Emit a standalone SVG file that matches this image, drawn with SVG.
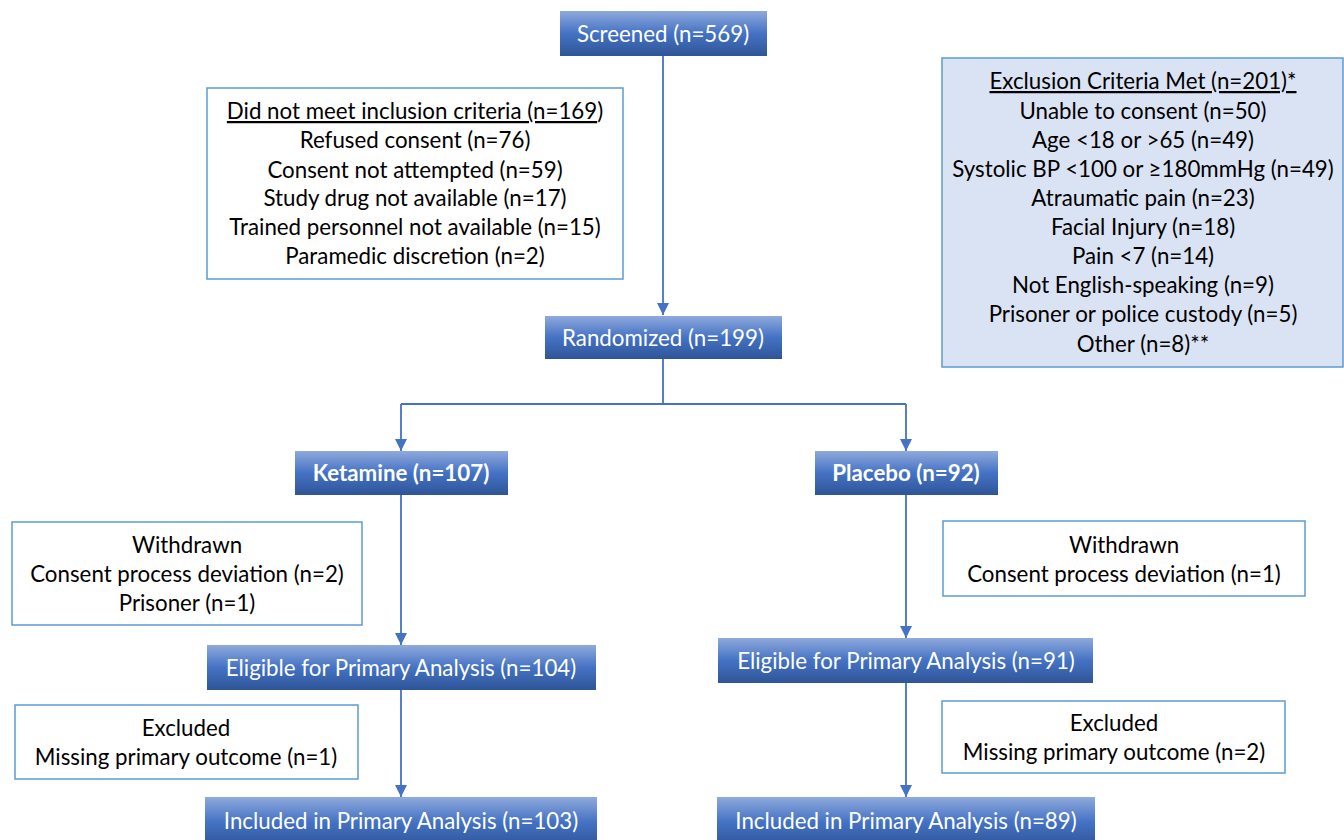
<svg xmlns="http://www.w3.org/2000/svg" width="1344" height="840" viewBox="0 0 1344 840">
<defs>
<linearGradient id="g" x1="0" y1="0" x2="0" y2="1">
<stop offset="0" stop-color="#8faadc"/>
<stop offset="0.5" stop-color="#4472c4"/>
<stop offset="1" stop-color="#2f5597"/>
</linearGradient>
<marker id="arr" markerUnits="userSpaceOnUse" markerWidth="12" markerHeight="12" viewBox="0 0 10 10" refX="10" refY="5" orient="auto">
<path d="M0,0 L10,5 L0,10 z" fill="#4472c4"/>
</marker>
<style>
.b{fill:url(#g);}
.w{fill:#fff;stroke:#5b9bd5;stroke-width:1.5;}
.l{fill:#dae3f3;stroke:#5b9bd5;stroke-width:1.5;}
text{font-family:Lato,"Open Sans",sans-serif;font-size:22.3px;text-anchor:middle;}
.wt{fill:#fff;}
.bt{fill:#fff;font-weight:bold;}
.k{fill:#000;}
.c{fill:none;stroke:#4472c4;stroke-width:1.8;}
</style>
</defs>
<g id="connectors">
<path class="c" d="M663,56 V315" marker-end="url(#arr)"/>
<path class="c" d="M663,359 V404 M401,404 H906"/>
<path class="c" d="M401,404 V451" marker-end="url(#arr)"/>
<path class="c" d="M906,404 V451" marker-end="url(#arr)"/>
<path class="c" d="M401,495 V645" marker-end="url(#arr)"/>
<path class="c" d="M401,690 V797" marker-end="url(#arr)"/>
<path class="c" d="M906,495 V638" marker-end="url(#arr)"/>
<path class="c" d="M906,683 V797" marker-end="url(#arr)"/>
</g>
<g id="screened">
<rect class="b" x="560" y="11" width="207" height="45"/>
<text class="wt" x="663" y="41.5">Screened (n=569)</text>
</g>
<g id="inclusion">
<rect class="w" x="207" y="88" width="416" height="191"/>
<text class="k" x="415" y="119"><tspan text-decoration="underline">Did not meet inclusion criteria (n=169</tspan>)</text>
<text class="k" x="415" y="148">Refused consent (n=76)</text>
<text class="k" x="415" y="178">Consent not attempted (n=59)</text>
<text class="k" x="415" y="206">Study drug not available (n=17)</text>
<text class="k" x="415" y="235">Trained personnel not available (n=15)</text>
<text class="k" x="415" y="264">Paramedic discretion (n=2)</text>
</g>
<g id="exclusion">
<rect class="l" x="942" y="58" width="401" height="309"/>
<text class="k" x="1143" y="89" text-decoration="underline">Exclusion Criteria Met (n=201)*</text>
<text class="k" x="1143" y="119">Unable to consent (n=50)</text>
<text class="k" x="1143" y="148">Age &lt;18 or &gt;65 (n=49)</text>
<text class="k" x="1143" y="177">Systolic BP &lt;100 or ≥180mmHg (n=49)</text>
<text class="k" x="1143" y="206">Atraumatic pain (n=23)</text>
<text class="k" x="1143" y="235">Facial Injury (n=18)</text>
<text class="k" x="1143" y="264">Pain &lt;7 (n=14)</text>
<text class="k" x="1143" y="293">Not English-speaking (n=9)</text>
<text class="k" x="1143" y="322">Prisoner or police custody (n=5)</text>
<text class="k" x="1143" y="352">Other (n=8)**</text>
</g>
<g id="randomized">
<rect class="b" x="545" y="316" width="237" height="43"/>
<text class="wt" x="663" y="345.5">Randomized (n=199)</text>
</g>
<g id="ketamine">
<rect class="b" x="295" y="451" width="213" height="44"/>
<text class="bt" x="401" y="481">Ketamine (n=107)</text>
</g>
<g id="placebo">
<rect class="b" x="815" y="451" width="183" height="44"/>
<text class="bt" x="906" y="481">Placebo (n=92)</text>
</g>
<g id="withdrawn-ketamine">
<rect class="w" x="12" y="522" width="350" height="103"/>
<text class="k" x="187" y="553">Withdrawn</text>
<text class="k" x="187" y="582">Consent process deviation (n=2)</text>
<text class="k" x="187" y="611">Prisoner (n=1)</text>
</g>
<g id="withdrawn-placebo">
<rect class="w" x="943" y="521" width="362" height="75"/>
<text class="k" x="1124" y="553">Withdrawn</text>
<text class="k" x="1124" y="582">Consent process deviation (n=1)</text>
</g>
<g id="eligible-ketamine">
<rect class="b" x="207" y="645" width="389" height="45"/>
<text class="wt" x="401" y="676">Eligible for Primary Analysis (n=104)</text>
</g>
<g id="eligible-placebo">
<rect class="b" x="718" y="638" width="375" height="45"/>
<text class="wt" x="906" y="669">Eligible for Primary Analysis (n=91)</text>
</g>
<g id="excluded-ketamine">
<rect class="w" x="15" y="705" width="343" height="74"/>
<text class="k" x="186" y="736">Excluded</text>
<text class="k" x="186" y="765">Missing primary outcome (n=1)</text>
</g>
<g id="excluded-placebo">
<rect class="w" x="942" y="701" width="343" height="72"/>
<text class="k" x="1114" y="731">Excluded</text>
<text class="k" x="1114" y="760">Missing primary outcome (n=2)</text>
</g>
<g id="included-ketamine">
<rect class="b" x="205" y="797" width="392" height="50"/>
<text class="wt" x="401" y="829">Included in Primary Analysis (n=103)</text>
</g>
<g id="included-placebo">
<rect class="b" x="717" y="797" width="378" height="50"/>
<text class="wt" x="906" y="829">Included in Primary Analysis (n=89)</text>
</g>
</svg>
